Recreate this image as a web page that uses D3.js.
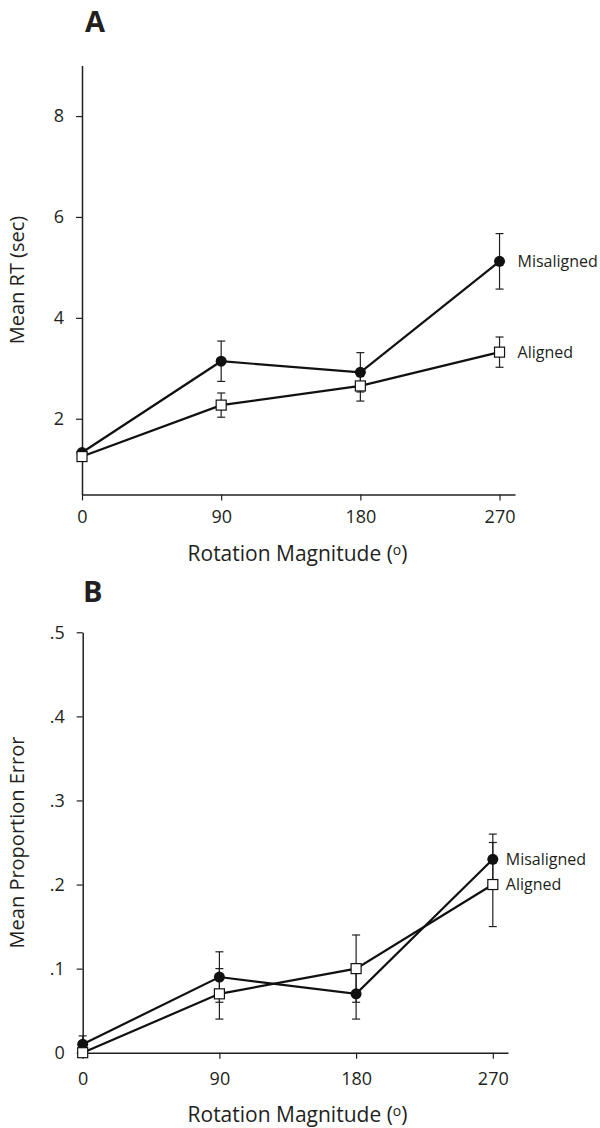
<!DOCTYPE html>
<html>
<head>
<meta charset="utf-8">
<script src="https://cdn.jsdelivr.net/npm/d3@7"></script>
<style>
  body { margin: 0; background: #fff; }
  svg text { font-family: "Open Sans", "Noto Sans", sans-serif; fill: #231f20; }
</style>
</head>
<body>
<svg id="svg" width="600" height="1128"></svg>
<script>
// rotation angles shared by both panels
const angles = [0, 90, 180, 270]

// panel A: mean RT (sec), with error bar half-widths
const rtMisaligned = [1.33, 3.14, 2.92, 5.12]
const rtMisalignedErr = [0.05, 0.40, 0.39, 0.55]
const rtAligned = [1.25, 2.27, 2.65, 3.32]
const rtAlignedErr = [0.05, 0.24, 0.30, 0.30]
const rtTicks = [2, 4, 6, 8]

// panel B: mean proportion error
const peMisaligned = [0.01, 0.09, 0.07, 0.23]
const peMisalignedErr = [0.01, 0.03, 0.03, 0.03]
const peAligned = [0, 0.07, 0.10, 0.20]
const peAlignedErr = [0, 0.03, 0.04, 0.05]
const peTicks = [0, 0.1, 0.2, 0.3, 0.4, 0.5]

const svg = d3.select("#svg")

function drawPanel(p) {
  const g = svg.append("g")
  const x = d3.scaleLinear().domain([0, 280]).range(p.xRange)
  const y = d3.scaleLinear().domain(p.yDomain).range(p.yRange)

  // panel letter
  g.append("text")
    .attr("x", p.letterPos[0]).attr("y", p.letterPos[1])
    .attr("font-size", 29).attr("font-weight", 700)
    .text(p.letter)

  // y axis
  const yAxis = g.append("g")
    .attr("transform", `translate(${x(0)},0)`)
    .call(d3.axisLeft(y).tickValues(p.yTicks).tickFormat(p.yFormat)
      .tickSize(6).tickSizeOuter(0).tickPadding(12))
  yAxis.select(".domain").attr("stroke", "#231f20").attr("stroke-width", 1.5)
  yAxis.selectAll(".tick line").attr("stroke", "#231f20").attr("stroke-width", 1.2)
  yAxis.selectAll(".tick text").attr("font-size", 18).attr("fill", "#231f20")
    .attr("font-family", "Open Sans")

  // x axis
  const xAxis = g.append("g")
    .attr("transform", `translate(0,${p.yRange[0]})`)
    .call(d3.axisBottom(x).tickValues(angles).tickSize(6).tickSizeOuter(0))
  xAxis.select(".domain").attr("stroke", "#231f20").attr("stroke-width", 1.5)
  xAxis.selectAll(".tick line").attr("stroke", "#231f20").attr("stroke-width", 1.2)
  xAxis.selectAll(".tick text").attr("font-size", 18).attr("fill", "#231f20")
    .attr("font-family", "Open Sans")
    .attr("y", p.xLabelOffset).attr("dy", "0.35em")

  // axis titles
  const xt = g.append("text")
    .attr("x", 297.5)
    .attr("y", p.xTitleY)
    .attr("dy", "0.35em")
    .attr("text-anchor", "middle")
    .attr("font-size", 21)
    .text("Rotation Magnitude (")
  xt.append("tspan").attr("font-size", 14).attr("dy", "-0.45em").text("o")
  xt.append("tspan").attr("dy", "0.3em").text(")")

  g.append("text")
    .attr("transform", `translate(${p.yTitleX},${(p.yRange[0] + p.yRange[1]) / 2}) rotate(-90)`)
    .attr("dy", "0.35em")
    .attr("text-anchor", "middle")
    .attr("font-size", 20)
    .text(p.yTitle)

  const line = d3.line().x((d, i) => x(angles[i])).y(d => y(d))

  const series = [
    {name: "Misaligned", values: p.mis, err: p.misErr, shape: "circle"},
    {name: "Aligned", values: p.ali, err: p.aliErr, shape: "square"}
  ]

  series.forEach(s => {
    g.append("path")
      .datum(s.values)
      .attr("fill", "none")
      .attr("stroke", "#111")
      .attr("stroke-width", 2.2)
      .attr("d", line)
  })

  series.forEach(s => {
    const eb = g.append("g").attr("stroke", "#231f20").attr("stroke-width", 1.2)
    s.values.forEach((v, i) => {
      const cx = x(angles[i])
      const top = y(v + s.err[i]), bot = y(v - s.err[i])
      eb.append("line").attr("x1", cx).attr("x2", cx).attr("y1", top).attr("y2", bot)
      eb.append("line").attr("x1", cx - 4).attr("x2", cx + 4).attr("y1", top).attr("y2", top)
      eb.append("line").attr("x1", cx - 4).attr("x2", cx + 4).attr("y1", bot).attr("y2", bot)
    })
  })

  series.forEach(s => {
    if (s.shape === "circle") {
      g.selectAll(null).data(s.values).join("circle")
        .attr("cx", (d, i) => x(angles[i]))
        .attr("cy", d => y(d))
        .attr("r", 5.5)
        .attr("fill", "#111")
    } else {
      g.selectAll(null).data(s.values).join("rect")
        .attr("x", (d, i) => x(angles[i]) - 5)
        .attr("y", d => y(d) - 5)
        .attr("width", 10).attr("height", 10)
        .attr("fill", "#fff")
        .attr("stroke", "#111")
        .attr("stroke-width", 1.2)
    }
    g.append("text")
      .attr("x", x(270) + p.labelDx)
      .attr("y", y(s.values[3]))
      .attr("dy", "0.35em")
      .attr("font-size", 16)
      .text(s.name)
  })
}

drawPanel({
  letter: "A", letterPos: [85, 32],
  xRange: [82, 515], yDomain: [0.5, 9], yRange: [494.4, 65.6],
  yTicks: rtTicks, yFormat: d3.format("d"),
  xLabelOffset: 22, xTitleY: 554, yTitleX: 17, yTitle: "Mean RT (sec)",
  mis: rtMisaligned, misErr: rtMisalignedErr, ali: rtAligned, aliErr: rtAlignedErr,
  labelDx: 18
})

drawPanel({
  letter: "B", letterPos: [83, 602],
  xRange: [82.7, 508], yDomain: [0, 0.5], yRange: [1052.7, 632.3],
  yTicks: peTicks, yFormat: d => d === 0 ? "0" : d3.format(".1f")(d).replace(/^0/, ""),
  xLabelOffset: 26, xTitleY: 1115, yTitleX: 17, yTitle: "Mean Proportion Error",
  mis: peMisaligned, misErr: peMisalignedErr, ali: peAligned, aliErr: peAlignedErr,
  labelDx: 13
})
</script>
</body>
</html>
